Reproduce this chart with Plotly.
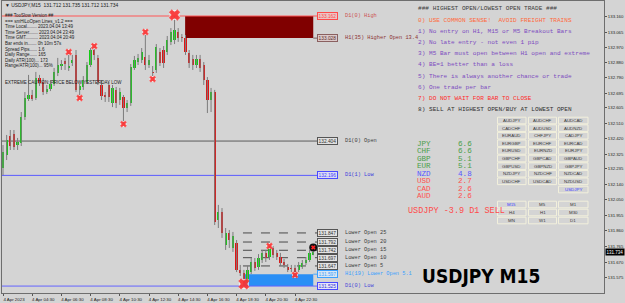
import plotly.graph_objects as go

# ---------------- data ----------------
time_ticks = ["4 Apr 2023", "4 Apr 04:30", "4 Apr 06:30", "4 Apr 08:30", "4 Apr 10:30",
              "4 Apr 12:30", "4 Apr 14:30", "4 Apr 16:30", "4 Apr 18:30", "4 Apr 20:30",
              "4 Apr 22:30"]
bars_per_label = 8

opens = [132.241, 132.320, 132.435, 132.447, 132.380, 132.392, 132.550, 132.659, 132.683, 132.665,
         132.786, 132.762, 132.701, 132.720, 132.750, 132.817, 132.859, 132.889, 132.847, 132.877,
         132.926, 132.714, 132.732, 132.762, 132.865, 132.956, 132.907, 132.744, 132.683, 132.744,
         132.635, 132.714, 132.653, 132.671, 132.604, 132.635, 132.847, 132.883, 132.895, 132.914,
         132.865, 132.823, 132.835, 132.944, 132.956, 132.944, 133.005, 133.017, 133.065, 133.035,
         133.029, 132.938, 132.901, 132.865, 132.901, 132.865, 132.774, 132.653, 132.701, 131.926,
         131.974, 131.774, 131.847, 131.756, 131.786, 131.623, 131.604, 131.550, 131.610, 131.671,
         131.641, 131.683, 131.726, 131.701, 131.756, 131.726, 131.701, 131.671, 131.641, 131.635,
         131.635, 131.623, 131.641, 131.665, 131.683, 131.712]
highs = [132.380, 132.441, 132.471, 132.471, 132.423, 132.580, 132.701, 132.805, 132.714, 132.823,
         132.805, 132.786, 132.744, 132.774, 132.847, 132.908, 132.895, 132.908, 132.938, 132.926,
         132.956, 132.750, 132.798, 132.883, 132.968, 132.974, 132.926, 132.774, 132.701, 132.762,
         132.744, 132.732, 132.726, 132.683, 132.653, 132.871, 132.920, 132.932, 132.968, 133.053,
         132.926, 132.859, 132.992, 132.968, 132.980, 133.041, 133.089, 133.162, 133.089, 133.053,
         133.047, 132.956, 132.926, 132.926, 132.926, 132.883, 132.792, 132.726, 132.714, 132.017,
         131.998, 131.877, 131.865, 131.853, 131.804, 131.653, 131.623, 131.647, 131.695, 131.695,
         131.719, 131.744, 131.744, 131.768, 131.768, 131.744, 131.726, 131.689, 131.659, 131.653,
         131.653, 131.671, 131.683, 131.701, 131.744, 131.735]
lows = [132.198, 132.289, 132.350, 132.350, 132.350, 132.374, 132.532, 132.647, 132.647, 132.653,
        132.738, 132.683, 132.689, 132.707, 132.738, 132.798, 132.835, 132.835, 132.829, 132.859,
        132.701, 132.671, 132.714, 132.750, 132.853, 132.895, 132.744, 132.653, 132.641, 132.641,
        132.610, 132.604, 132.623, 132.507, 132.580, 132.617, 132.835, 132.865, 132.877, 132.835,
        132.847, 132.798, 132.817, 132.859, 132.847, 132.926, 132.986, 132.992, 133.005, 133.005,
        132.926, 132.847, 132.835, 132.847, 132.823, 132.744, 132.574, 132.580, 131.895, 131.877,
        131.817, 131.744, 131.756, 131.732, 131.610, 131.586, 131.525, 131.532, 131.598, 131.617,
        131.623, 131.665, 131.671, 131.683, 131.695, 131.683, 131.647, 131.635, 131.610, 131.610,
        131.592, 131.610, 131.629, 131.653, 131.671, 131.712]
closes = [132.338, 132.410, 132.374, 132.368, 132.398, 132.550, 132.665, 132.683, 132.659, 132.786,
          132.756, 132.701, 132.720, 132.750, 132.823, 132.865, 132.871, 132.871, 132.859, 132.895,
          132.714, 132.738, 132.774, 132.865, 132.956, 132.926, 132.762, 132.677, 132.671, 132.671,
          132.726, 132.635, 132.701, 132.604, 132.635, 132.853, 132.895, 132.907, 132.944, 132.865,
          132.895, 132.817, 132.974, 132.877, 132.877, 133.017, 133.065, 133.077, 133.029, 133.029,
          132.944, 132.877, 132.865, 132.901, 132.847, 132.774, 132.653, 132.701, 131.914, 131.974,
          131.847, 131.847, 131.804, 131.829, 131.623, 131.604, 131.544, 131.623, 131.671, 131.635,
          131.695, 131.726, 131.695, 131.756, 131.714, 131.701, 131.665, 131.653, 131.623, 131.629,
          131.604, 131.653, 131.665, 131.683, 131.726, 131.734]
bar_index = list(range(len(opens)))

signal_bars = [18, 21, 25, 33, 39, 41, 47, 66, 73, 80]
signal_prices = [132.944, 132.665, 132.980, 132.507, 133.065, 132.780, 133.168, 131.538, 131.768, 131.592]
big_signal_bars = [47, 66]
current_marker_price = 131.759

price_ticks = [133.160, 133.065, 132.970, 132.880, 132.790, 132.695, 132.605, 132.510, 132.420,
               132.325, 132.235, 132.140, 132.050, 131.955, 131.860, 131.765, 131.670, 131.575, 131.480]

d1_high = 133.162
h1_higher_open = 133.028
h1_higher_open_bar = 50
d1_open = 132.404
d1_prev_low = 132.196
lower_opens = [131.847, 131.792, 131.742, 131.697, 131.647]
lower_open_names = ["Lower Open 25", "Lower Open 20", "Lower Open 15", "Lower Open 10", "Lower Open 5"]
h1_lower_open = 131.597
h1_lower_open_bar = 66
d1_low = 131.525

header_text = "▼ USDJPY,M15  131.712 131.735 131.712 131.734"
info_lines = ["### TooSlow Version ##",
              "=== smHiLoOpen Lines_v1.2 ===",
              "Time Local........ 2023.04.04 13:49",
              "Time Server....... 2023.04.04 23:49",
              "Time GMT.......... 2023.04.04 20:49",
              "Bar ends in....... 0h 10m 57s",
              "Spread Pips...... 1.6",
              "Daily Range...... 165",
              "Daily ATR(100)... 173",
              "Range/ATR(100)... 95%"]
caution_text = "EXTREME CAUTION: PRICE BELOW YESTERDAY LOW"

rules = ["### HIGHEST OPEN/LOWEST OPEN TRADE ###",
         "0) USE COMMON SENSE!  AVOID FREIGHT TRAINS",
         "1) No entry on H1, M15 or M5 Breakout Bars",
         "2) No late entry - not even 1 pip",
         "3) M5 Bar must open between H1 open and extreme",
         "4) BE=1 better than a loss",
         "5) There is always another chance or trade",
         "6) One trade per bar",
         "7) DO NOT WAIT FOR BAR TO CLOSE",
         "8) SELL AT HIGHEST OPEN/BUY AT LOWEST OPEN"]

currencies = ["JPY", "CHF", "GBP", "EUR", "NZD", "USD", "CAD", "AUD"]
strengths = [6.6, 6.6, 5.1, 5.1, 4.8, 2.7, 2.6, 2.6]
signal_text = "USDJPY -3.9 D1 SELL"

pair_grid = [["AUDJPY", "AUDCHF", "AUDCAD"],
             ["CADCHF", "AUDUSD", "AUDNZD"],
             ["EURAUD", "CHFJPY", "CADJPY"],
             ["EURGBP", "EURCHF", "EURCAD"],
             ["EURUSD", "EURNZD", "EURJPY"],
             ["GBPCHF", "GBPCAD", "GBPAUD"],
             ["GBPUSD", "GBPNZD", "GBPJPY"],
             ["NZDJPY", "NZDCHF", "NZDCAD"],
             ["USDCHF", "USDCAD", "NZDUSD"],
             [None, None, "USDJPY"]]
timeframes = [["M15", "M5", "M1"], ["H4", "H1", "M30"], ["MN", "W1", "D1"]]
big_title = "USDJPY M15"

# ---------------- layout geometry ----------------
W, H = 625, 303
ML, MR, MT, MB = 2, 21, 1, 10
PW, PH = W - ML - MR, H - MT - MB
BG = "#d4d4d4"
last = bar_index[-1]


def P(px, py):
    return (px - ML) / PW, 1 - (py - MT) / PH


fig = go.Figure()

# wicks
wx, wy = [], []
for i, h, l in zip(bar_index, highs, lows):
    wx += [i, i, None]
    wy += [l, h, None]
fig.add_trace(go.Scatter(x=wx, y=wy, mode="lines", line=dict(color="#7c7c7c", width=1),
                         hoverinfo="skip", showlegend=False))
# bodies
base = [min(o, c) for o, c in zip(opens, closes)]
height = [max(abs(c - o), 0.005) for o, c in zip(opens, closes)]
colors = ["#14cc14" if c >= o else "#e01414" for o, c in zip(opens, closes)]
fig.add_trace(go.Bar(x=bar_index, y=height, base=base, width=0.62,
                     marker=dict(color=colors, line=dict(width=0)),
                     hoverinfo="skip", showlegend=False))
# signal markers
sizes = [10 if b in big_signal_bars else 6 for b in signal_bars]
fig.add_trace(go.Scatter(x=signal_bars, y=signal_prices, mode="markers",
                         marker=dict(symbol="square", size=[s - 1 for s in sizes], color="#f2a6a6"),
                         hoverinfo="skip", showlegend=False))
fig.add_trace(go.Scatter(x=signal_bars, y=signal_prices, mode="markers",
                         marker=dict(symbol="x", size=sizes, color="#ff1010", line=dict(width=0)),
                         hoverinfo="skip", showlegend=False))
fig.add_trace(go.Scatter(x=[last], y=[current_marker_price], mode="markers",
                         marker=dict(symbol="circle", size=8, color="#111111"),
                         hoverinfo="skip", showlegend=False))
fig.add_trace(go.Scatter(x=[last], y=[current_marker_price], mode="markers",
                         marker=dict(symbol="x", size=4, color="#ff2020", line=dict(width=0)),
                         hoverinfo="skip", showlegend=False))

shapes = []
line_end = last + 1.3
tag_x = last + 4
label_x = last + 8.1

# rectangles
shapes.append(dict(type="rect", xref="x", yref="y", x0=h1_higher_open_bar - 0.1, x1=last,
                   y0=h1_higher_open, y1=d1_high, fillcolor="#800000", line=dict(width=0), layer="below"))
shapes.append(dict(type="rect", xref="x", yref="y", x0=h1_lower_open_bar - 0.25, x1=last,
                   y0=d1_low, y1=h1_lower_open, fillcolor="#2a8ff5", line=dict(width=0), layer="below"))


def hline(y, color, x0=-1, dash="solid", width=1):
    shapes.append(dict(type="line", xref="x", yref="y", x0=x0, x1=line_end, y0=y, y1=y,
                       line=dict(color=color, width=width, dash=dash), layer="below"))


hline(d1_high, "#ff5656")
hline(h1_higher_open, "#7a6060", x0=last)
hline(d1_open, "#5c5c5c")
hline(d1_prev_low, "#5a5aff")
hline(d1_low, "#6464ff")
hline(h1_lower_open, "#4aa8ff", x0=last)
for v in lower_opens:
    hline(v, "#4a4a4a", x0=h1_lower_open_bar - 0.25, dash="dash")

annotations = []


def tag(y, text_color, border, bg, label, label_color):
    annotations.append(dict(x=tag_x, y=y, xref="x", yref="y", text=f"{y:.3f}", showarrow=False,
                            xanchor="center", yanchor="middle",
                            font=dict(family="Liberation Sans, Arial", size=4.8, color=text_color),
                            bordercolor=border, borderwidth=1, borderpad=0.6, bgcolor=bg))
    annotations.append(dict(x=label_x, y=y, xref="x", yref="y", text=label, showarrow=False,
                            xanchor="left", yanchor="middle",
                            font=dict(family="Liberation Mono, Courier New", size=5.3, color=label_color)))


tag(d1_high, "#ff4a4a", "#ff4a4a", "#e9c4c4", "D1(0) High", "#cc5050")
tag(h1_higher_open, "#5a2a2a", "#8a6060", "#dccaca", "H1(35) Higher Open 13.4", "#8b3232")
tag(d1_open, "#333333", "#555555", "#e0e0e0", "D1(0) Open", "#3c3c3c")
tag(d1_prev_low, "#3c3cff", "#4a4aff", "#dcdcf2", "D1(1) Low", "#3c3cdc")
for v, n in zip(lower_opens, lower_open_names):
    tag(v, "#303030", "#555555", "#e2e2e2", n, "#3c3c3c")
tag(h1_lower_open, "#3aa0ff", "#3aa0ff", "#d8e6f2", "H1(19) Lower Open 5.1", "#3aa0ff")
tag(d1_low, "#3232d0", "#4a4aff", "#e4e4fa", "D1(0) Low", "#4646d8")

# current price label on the axis
annotations.append(dict(x=1, y=closes[-1], xref="paper", yref="y", text=f"{closes[-1]:.3f}",
                        showarrow=False, xanchor="left", yanchor="middle", xshift=1,
                        font=dict(family="Liberation Sans, Arial", size=4.5, color="#ffffff"),
                        bgcolor="#000000", borderpad=0.5))


def text(px, py, s, size, color, family="Liberation Sans, Arial", anchor="left", pad=1):
    x, y = P(px, py)
    annotations.append(dict(x=x, y=y, xref="paper", yref="paper", text=s, showarrow=False,
                            xanchor=anchor, yanchor="middle", borderpad=pad,
                            font=dict(family=family, size=size, color=color)))


# top-left info block
text(3, 5, header_text, 4.9, "#1a1a1a")
for k, s in enumerate(info_lines):
    text(3, 15.7 + k * 5.55, s, 4.5, "#1a1a1a")
text(3, 82, caution_text, 4.5, "#1a1a1a")

# rules block
rule_colors = ["#3c3c3c", "#ff6a3c"] + ["#7d4cc0"] * 6 + ["#ff2a2a", "#303030"]
rule_y = [8.5, 20.5, 31.6, 42.7, 53.8, 64.9, 76.0, 87.1, 98.2, 109.3]
for s, c, yy in zip(rules, rule_colors, rule_y):
    text(416, yy, s, 6.1, c, family="Liberation Mono, Courier New")

# currency strength (one text per row: name and value)
for k, (cur, s) in enumerate(zip(currencies, strengths)):
    c = "#4a9e4a" if s >= 5 else ("#5656ff" if s >= 4 else "#ff5050")
    yy = 144.0 + k * 7.45
    text(416, yy, f"{cur}      {s:.1f}", 7.6, c, family="Liberation Mono, Courier New", pad=0)
text(406, 211, signal_text, 8.5, "#ff4a4a", family="Liberation Mono, Courier New")

# buttons
col_x = [(497.5, 526), (528.5, 556.5), (558.5, 588)]
btn_h = 6.6


def button(cx, cy, label, color):
    x0, y0 = P(cx[0], cy - btn_h / 2)
    x1, y1 = P(cx[1], cy + btn_h / 2)
    shapes.append(dict(type="rect", xref="paper", yref="paper", x0=x0, x1=x1, y0=y0, y1=y1,
                       line=dict(color="#f2f0dc", width=1), fillcolor="rgba(0,0,0,0)"))
    text((cx[0] + cx[1]) / 2, cy, label, 4.4, color, anchor="center")


for r, row in enumerate(pair_grid):
    cy = 120.5 + r * 7.6 + (0.6 if r == len(pair_grid) - 1 else 0)
    for c, name in enumerate(row):
        if name:
            button(col_x[c], cy, name, "#3a3aff" if name == "USDJPY" else "#383838")
for r, row in enumerate(timeframes):
    cy = 204.5 + r * 8
    for c, name in enumerate(row):
        button(col_x[c], cy, name, "#3a3aff" if name == "M15" else "#383838")

# big symbol title
text(481, 276, f"<b>{big_title}</b>", 19, "#000000",
     family="Liberation Sans Narrow, Arial Narrow, DejaVu Sans Condensed, Liberation Sans", anchor="center")

fig.update_layout(
    width=W, height=H, margin=dict(l=ML, r=MR, t=MT, b=MB),
    paper_bgcolor=BG, plot_bgcolor=BG, showlegend=False, bargap=0,
    shapes=shapes, annotations=annotations,
    xaxis=dict(range=[-0.274, 164.66], tickmode="array",
               tickvals=[k * bars_per_label for k in range(len(time_ticks))], ticktext=time_ticks,
               ticks="outside", ticklen=2, tickcolor="#555555", showgrid=False, zeroline=False,
               showline=True, linecolor="#6e6e6e", mirror=True, automargin=False,
               ticklabelshift=11, ticklabelstandoff=0,
               tickfont=dict(family="Liberation Sans, Arial", size=4.4, color="#222222")),
    yaxis=dict(range=[131.483, 133.253], side="right", tickmode="array",
               tickvals=price_ticks, ticktext=[f"{v:.3f}" for v in price_ticks],
               ticks="outside", ticklen=2, tickcolor="#555555", showgrid=False, zeroline=False,
               showline=True, linecolor="#6e6e6e", mirror=True, automargin=False,
               tickfont=dict(family="Liberation Sans, Arial", size=4.3, color="#222222")),
)

fig.write_html("out.html", config={"displayModeBar": False, "staticPlot": True})
